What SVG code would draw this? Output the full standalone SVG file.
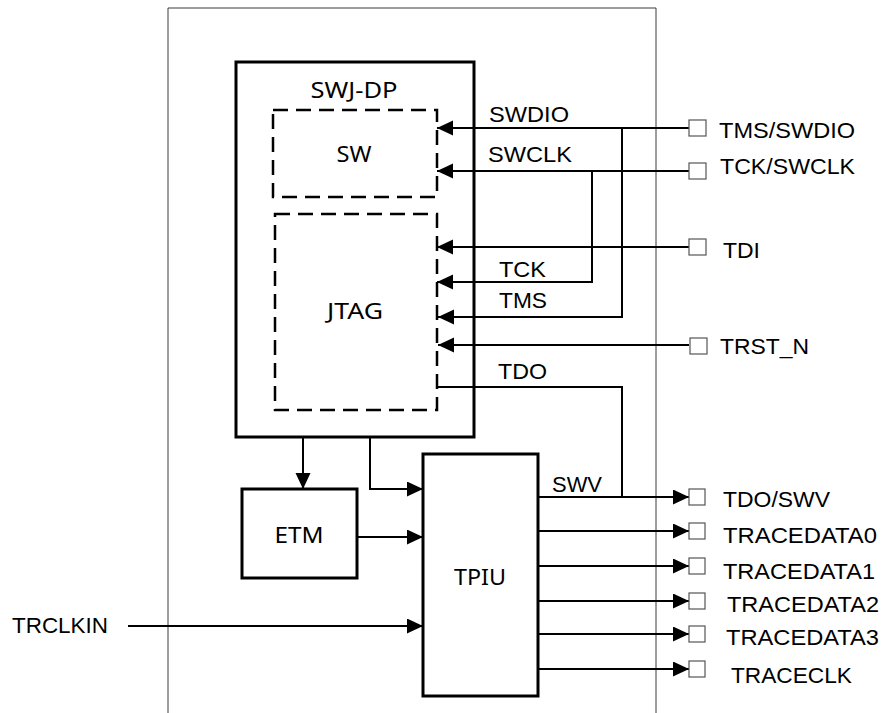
<svg xmlns="http://www.w3.org/2000/svg" width="885" height="713" viewBox="0 0 885 713">
<style>
.frame{fill:none;stroke:#3a3a3a;stroke-width:1}
.box{fill:#fff;stroke:#000;stroke-width:3}
.dash{fill:none;stroke:#000;stroke-width:2.5;stroke-dasharray:15 8}
.pin{fill:#fff;stroke:#555;stroke-width:1.2}
.wire{fill:none;stroke:#000;stroke-width:2}
.arr{marker-end:url(#ah)}
.lbl{font-family:"Liberation Sans",Arial,sans-serif;font-size:21.5px;fill:#000}
.btx{font-family:"Noto Sans","Open Sans",sans-serif;font-size:22px;fill:#000;text-anchor:middle}
</style>
<defs>
<marker id="ah" markerUnits="userSpaceOnUse" markerWidth="16" markerHeight="16" refX="16" refY="7.5" orient="auto">
<path d="M0,0 L16,7.5 L0,15 Z" fill="#000"/>
</marker>
</defs>
<rect width="885" height="713" fill="#fff"/>
<path class="frame" d="M168,713 V8 H656 V713"/>

<g id="swjdp">
<rect class="box" x="236" y="62" width="238" height="375"/>
<text class="btx" x="354" y="98" textLength="87" lengthAdjust="spacingAndGlyphs">SWJ-DP</text>
</g>
<g id="sw">
<rect class="dash" x="273" y="110" width="164" height="87"/>
<text class="btx" x="354" y="162" textLength="35" lengthAdjust="spacingAndGlyphs">SW</text>
</g>
<g id="jtag">
<rect class="dash" x="275" y="214" width="162" height="196"/>
<text class="btx" x="355" y="319" font-size="23" textLength="56" lengthAdjust="spacingAndGlyphs">JTAG</text>
</g>
<g id="etm">
<rect class="box" x="242" y="489" width="115" height="89"/>
<text class="btx" x="299" y="543" font-size="24" textLength="49" lengthAdjust="spacingAndGlyphs">ETM</text>
</g>
<g id="tpiu">
<rect class="box" x="423" y="454" width="115" height="242"/>
<text class="btx" x="480" y="585" font-size="24" textLength="52" lengthAdjust="spacingAndGlyphs">TPIU</text>
</g>

<g id="connectors">
<path class="wire arr" d="M689,128 H437"/>
<path class="wire arr" d="M622,128 V317 H438"/>
<path class="wire arr" d="M689,171 H437"/>
<path class="wire arr" d="M592,171 V282 H437"/>
<path class="wire arr" d="M689,247 H437"/>
<path class="wire arr" d="M689,345 H438"/>
<path class="wire" d="M437,387 H622 V497"/>
<path class="wire arr" d="M538,497 H689"/>
<path class="wire arr" d="M538,531 H689"/>
<path class="wire arr" d="M538,566 H689"/>
<path class="wire arr" d="M538,601 H689"/>
<path class="wire arr" d="M538,634 H689"/>
<path class="wire arr" d="M538,669 H689"/>
<path class="wire arr" d="M303,437 V489"/>
<path class="wire arr" d="M370,437 V489 H423"/>
<path class="wire arr" d="M357,537 H423"/>
<path class="wire arr" d="M128,626 H423"/>
</g>

<g id="pins">
<rect class="pin" x="689" y="120" width="17" height="16"/>
<rect class="pin" x="689" y="163" width="17" height="16"/>
<rect class="pin" x="689" y="239" width="17" height="16"/>
<rect class="pin" x="690" y="338" width="17" height="16"/>
<rect class="pin" x="689" y="489" width="16" height="16"/>
<rect class="pin" x="689" y="523" width="16" height="16"/>
<rect class="pin" x="689" y="558" width="16" height="16"/>
<rect class="pin" x="689" y="593" width="16" height="16"/>
<rect class="pin" x="689" y="626" width="16" height="16"/>
<rect class="pin" x="689" y="661" width="16" height="16"/>
</g>

<g id="labels">
<text class="lbl" x="489" y="122" textLength="80" lengthAdjust="spacingAndGlyphs">SWDIO</text>
<text class="lbl" x="488" y="162" textLength="84" lengthAdjust="spacingAndGlyphs">SWCLK</text>
<text class="lbl" x="499" y="277" textLength="47" lengthAdjust="spacingAndGlyphs">TCK</text>
<text class="lbl" x="499" y="308" textLength="48" lengthAdjust="spacingAndGlyphs">TMS</text>
<text class="lbl" x="498" y="379" textLength="49" lengthAdjust="spacingAndGlyphs">TDO</text>
<text class="lbl" x="552" y="492" textLength="50" lengthAdjust="spacingAndGlyphs">SWV</text>
<text class="lbl" x="719" y="138" textLength="136" lengthAdjust="spacingAndGlyphs">TMS/SWDIO</text>
<text class="lbl" x="720" y="174" textLength="135" lengthAdjust="spacingAndGlyphs">TCK/SWCLK</text>
<text class="lbl" x="723" y="258" textLength="37" lengthAdjust="spacingAndGlyphs">TDI</text>
<text class="lbl" x="720" y="354" textLength="89" lengthAdjust="spacingAndGlyphs">TRST_N</text>
<text class="lbl" x="723" y="507" textLength="107" lengthAdjust="spacingAndGlyphs">TDO/SWV</text>
<text class="lbl" x="723" y="543" textLength="154" lengthAdjust="spacingAndGlyphs">TRACEDATA0</text>
<text class="lbl" x="723" y="579" textLength="152" lengthAdjust="spacingAndGlyphs">TRACEDATA1</text>
<text class="lbl" x="727" y="612" textLength="152" lengthAdjust="spacingAndGlyphs">TRACEDATA2</text>
<text class="lbl" x="726" y="645" textLength="153" lengthAdjust="spacingAndGlyphs">TRACEDATA3</text>
<text class="lbl" x="731" y="683" textLength="121" lengthAdjust="spacingAndGlyphs">TRACECLK</text>
<text class="lbl" x="12" y="633" textLength="96" lengthAdjust="spacingAndGlyphs">TRCLKIN</text>
</g>
</svg>
